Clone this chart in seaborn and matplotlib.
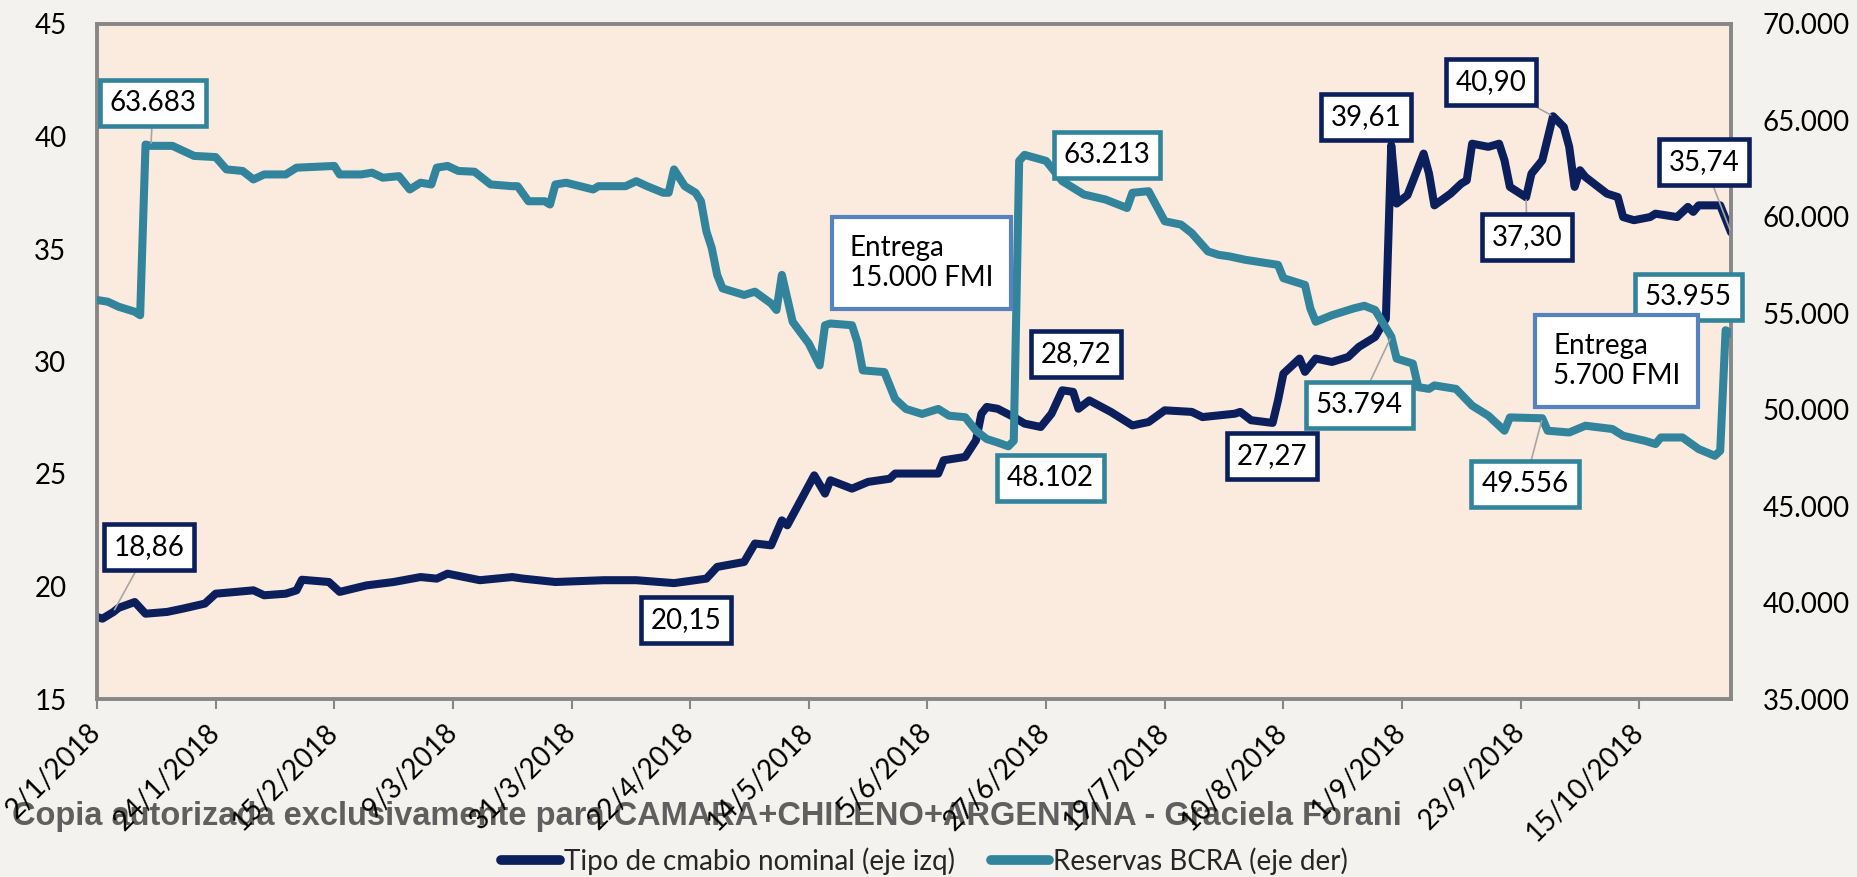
import pandas as pd
import matplotlib
matplotlib.use("Agg")
import matplotlib.pyplot as plt
import matplotlib.dates as mdates
import matplotlib.ticker as mticker
from matplotlib.lines import Line2D
from matplotlib.transforms import ScaledTranslation
import seaborn as sns

# tipo de cambio nominal (eje izq)
tc_dates = ["2018-01-02", "2018-01-03", "2018-01-05", "2018-01-06", "2018-01-09", "2018-01-11",
            "2018-01-15", "2018-01-18", "2018-01-22", "2018-01-24", "2018-01-31", "2018-02-02",
            "2018-02-06", "2018-02-08", "2018-02-09", "2018-02-14", "2018-02-16", "2018-02-21",
            "2018-02-26", "2018-03-03", "2018-03-06", "2018-03-08", "2018-03-14", "2018-03-20",
            "2018-03-22", "2018-03-28", "2018-04-06", "2018-04-12", "2018-04-19", "2018-04-25",
            "2018-04-27", "2018-05-02", "2018-05-04", "2018-05-07", "2018-05-09", "2018-05-10",
            "2018-05-15", "2018-05-17", "2018-05-18", "2018-05-22", "2018-05-25", "2018-05-29",
            "2018-05-30", "2018-06-07", "2018-06-08", "2018-06-12", "2018-06-14", "2018-06-15",
            "2018-06-16", "2018-06-18", "2018-06-21", "2018-06-23", "2018-06-26", "2018-06-28",
            "2018-06-30", "2018-07-02", "2018-07-03", "2018-07-05", "2018-07-09", "2018-07-13",
            "2018-07-16", "2018-07-19", "2018-07-24", "2018-07-26", "2018-08-01", "2018-08-02",
            "2018-08-04", "2018-08-08", "2018-08-09", "2018-08-10", "2018-08-13", "2018-08-14",
            "2018-08-16", "2018-08-19", "2018-08-22", "2018-08-24", "2018-08-27", "2018-08-29",
            "2018-08-30", "2018-08-31", "2018-09-02", "2018-09-05", "2018-09-06", "2018-09-07",
            "2018-09-10", "2018-09-12", "2018-09-13", "2018-09-14", "2018-09-17", "2018-09-19",
            "2018-09-20", "2018-09-21", "2018-09-24", "2018-09-25", "2018-09-27", "2018-09-29",
            "2018-10-01", "2018-10-02", "2018-10-03", "2018-10-04", "2018-10-05", "2018-10-09",
            "2018-10-11", "2018-10-12", "2018-10-14", "2018-10-17", "2018-10-18", "2018-10-22",
            "2018-10-24", "2018-10-25", "2018-10-26", "2018-10-30", "2018-11-01"]
tc_values = [18.65, 18.57, 18.86, 19.05, 19.31, 18.79,
             18.87, 19.02, 19.24, 19.68, 19.83, 19.61,
             19.68, 19.83, 20.30, 20.20, 19.76, 20.05,
             20.20, 20.42, 20.35, 20.57, 20.28, 20.42,
             20.35, 20.20, 20.28, 20.28, 20.15, 20.35,
             20.87, 21.09, 21.91, 21.83, 22.94, 22.72,
             24.94, 24.13, 24.72, 24.35, 24.65, 24.79,
             25.02, 25.02, 25.61, 25.76, 26.50, 27.68,
             27.98, 27.90, 27.53, 27.24, 27.09, 27.68,
             28.72, 28.65, 27.90, 28.27, 27.76, 27.16,
             27.31, 27.83, 27.76, 27.53, 27.68, 27.76,
             27.39, 27.27, 28.27, 29.46, 30.13, 29.54,
             30.13, 29.98, 30.20, 30.65, 31.09, 31.90,
             39.61, 37.02, 37.39, 39.24, 38.35, 36.94,
             37.46, 37.91, 38.05, 39.68, 39.54, 39.68,
             38.94, 37.76, 37.30, 38.35, 38.94, 40.90,
             40.42, 39.54, 37.76, 38.50, 38.20, 37.46,
             37.31, 36.42, 36.28, 36.42, 36.57, 36.42,
             36.87, 36.65, 36.94, 36.94, 35.74]

# reservas BCRA (eje der), millones de USD
res_dates = ["2018-01-02", "2018-01-04", "2018-01-06", "2018-01-09", "2018-01-10", "2018-01-11",
             "2018-01-12", "2018-01-16", "2018-01-20", "2018-01-24", "2018-01-26", "2018-01-29",
             "2018-01-31", "2018-02-02", "2018-02-06", "2018-02-08", "2018-02-15", "2018-02-16",
             "2018-02-20", "2018-02-22", "2018-02-24", "2018-02-27", "2018-03-01", "2018-03-03",
             "2018-03-05", "2018-03-06", "2018-03-08", "2018-03-10", "2018-03-13", "2018-03-16",
             "2018-03-20", "2018-03-21", "2018-03-23", "2018-03-26", "2018-03-27", "2018-03-28",
             "2018-03-30", "2018-04-04", "2018-04-05", "2018-04-10", "2018-04-12", "2018-04-14",
             "2018-04-17", "2018-04-18", "2018-04-19", "2018-04-21", "2018-04-23", "2018-04-24",
             "2018-04-25", "2018-04-26", "2018-04-27", "2018-04-28", "2018-05-02", "2018-05-04",
             "2018-05-07", "2018-05-08", "2018-05-09", "2018-05-10", "2018-05-11", "2018-05-14",
             "2018-05-16", "2018-05-17", "2018-05-18", "2018-05-22", "2018-05-23", "2018-05-24",
             "2018-05-28", "2018-05-29", "2018-05-30", "2018-06-01", "2018-06-04", "2018-06-07",
             "2018-06-09", "2018-06-12", "2018-06-14", "2018-06-16", "2018-06-18", "2018-06-20",
             "2018-06-21", "2018-06-22", "2018-06-23", "2018-06-27", "2018-06-30", "2018-07-04",
             "2018-07-08", "2018-07-12", "2018-07-13", "2018-07-16", "2018-07-17", "2018-07-19",
             "2018-07-22", "2018-07-24", "2018-07-27", "2018-07-29", "2018-07-31", "2018-08-03",
             "2018-08-09", "2018-08-10", "2018-08-14", "2018-08-15", "2018-08-16", "2018-08-19",
             "2018-08-23", "2018-08-25", "2018-08-27", "2018-08-30", "2018-08-31", "2018-09-03",
             "2018-09-04", "2018-09-06", "2018-09-07", "2018-09-11", "2018-09-14", "2018-09-17",
             "2018-09-20", "2018-09-21", "2018-09-27", "2018-09-28", "2018-10-02", "2018-10-05",
             "2018-10-10", "2018-10-12", "2018-10-16", "2018-10-18", "2018-10-19", "2018-10-23",
             "2018-10-26", "2018-10-29", "2018-10-30", "2018-10-31", "2018-11-01"]
res_values = [55690, 55600, 55340, 55080, 54900, 63750,
              63683, 63680, 63160, 63100, 62460, 62380,
              61940, 62200, 62200, 62550, 62640, 62200,
              62200, 62290, 62030, 62110, 61420, 61770,
              61680, 62550, 62640, 62380, 62340, 61680,
              61590, 61590, 60810, 60810, 60640, 61680,
              61770, 61420, 61590, 61590, 61850, 61590,
              61250, 61250, 62460, 61590, 61250, 60810,
              59250, 58380, 56990, 56290, 55950, 56120,
              55510, 55170, 56990, 55770, 54560, 53430,
              52300, 54380, 54470, 54380, 53510, 52040,
              51950, 51260, 50560, 50040, 49780, 50040,
              49690, 49610, 48910, 48480, 48300, 48102,
              48390, 62900, 63213, 62900, 61850, 61160,
              60900, 60460, 61250, 61330, 60810, 59770,
              59600, 59160, 58210, 58030, 57950, 57770,
              57510, 56820, 56470, 55250, 54560, 54900,
              55250, 55390, 55170, 53794, 52650, 52390,
              51170, 51080, 51260, 51080, 50210, 49690,
              48910, 49600, 49556, 48910, 48820, 49170,
              49000, 48650, 48390, 48220, 48560, 48560,
              47960, 47610, 47870, 54120, 53955]

tick_labels = ["2/1/2018", "24/1/2018", "15/2/2018", "9/3/2018", "31/3/2018", "22/4/2018",
               "14/5/2018", "5/6/2018", "27/6/2018", "19/7/2018", "10/8/2018", "1/9/2018",
               "23/9/2018", "15/10/2018"]
left_ticks = [15, 20, 25, 30, 35, 40, 45]
right_ticks = [35000, 40000, 45000, 50000, 55000, 60000, 65000, 70000]

tc_label_dates = ["2018-01-05", "2018-04-19", "2018-06-30", "2018-08-08", "2018-08-30",
                  "2018-09-29", "2018-09-24", "2018-11-01"]
res_label_dates = ["2018-01-12", "2018-06-20", "2018-06-23", "2018-08-30", "2018-09-27",
                   "2018-11-01"]
entrega_texts = ["Entrega\n15.000 FMI", "Entrega\n5.700 FMI"]
legend_labels = ["Tipo de cmabio nominal (eje izq)", "Reservas BCRA (eje der)"]
watermark = "Copia autorizada exclusivamente para CAMARA+CHILENO+ARGENTINA - Graciela Forani"

# layout (figure pixels from top-left) for the boxes, and whether a leader line is drawn
tc_label_pos = [(149, 547, True), (686, 620, False), (1076, 354, False), (1272, 456, False),
                (1366, 117, False), (1491, 82, True), (1527, 237, True), (1704, 162, True)]
res_label_pos = [(153, 103, True), (1050, 478, False), (1107, 155, False), (1359, 405, True),
                 (1525, 484, True), (1688, 297, False)]
entrega_pos = [(850, 263), (1553, 361)]

NAVY = "#0B1F5C"
TEAL = "#31849B"
BOXBLUE = "#5682BE"
FIG_BG = "#F3F2EE"
PLOT_BG = "#FAEBDE"
FRAME = "#878787"

tc = pd.DataFrame({"fecha": pd.to_datetime(tc_dates), "valor": tc_values})
res = pd.DataFrame({"fecha": pd.to_datetime(res_dates), "valor": res_values})

sns.set_theme(style="white")
plt.rcParams["font.family"] = ["Lato", "DejaVu Sans"]

W, H = 1857, 877
fig = plt.figure(figsize=(W / 100, H / 100), dpi=100, facecolor=FIG_BG)
ax = fig.add_axes([97 / W, 1 - 699 / H, (1731 - 97) / W, (699 - 24) / H])
ax.set_facecolor(PLOT_BG)
ax2 = ax.twinx()

sns.lineplot(data=tc, x="fecha", y="valor", ax=ax, color=NAVY, linewidth=5.8,
             solid_joinstyle="round", solid_capstyle="round", legend=False)
sns.lineplot(data=res, x="fecha", y="valor", ax=ax2, color=TEAL, linewidth=5.8,
             solid_joinstyle="round", solid_capstyle="round", legend=False)

ax.set_xlim(tc["fecha"].min(), tc["fecha"].max())
ax.set_ylim(15, 45)
ax2.set_ylim(35000, 70000)
ax.set_xlabel("")
ax.set_ylabel("")
ax2.set_ylabel("")

ax.set_yticks(left_ticks)
ax.set_yticklabels([str(t) for t in left_ticks], fontsize=20)
ax2.set_yticks(right_ticks)
ax2.yaxis.set_major_formatter(mticker.FuncFormatter(lambda v, p: f"{v:,.0f}".replace(",", ".")))
for lab in ax2.get_yticklabels():
    lab.set_fontsize(20)

ax.set_xticks(pd.to_datetime(tick_labels, dayfirst=True))
ax.set_xticklabels(tick_labels, rotation=45, ha="right", va="center",
                   rotation_mode="anchor", fontsize=20)
shift = ScaledTranslation(0.03, 0, fig.dpi_scale_trans)
for lab in ax.get_xticklabels():
    lab.set_transform(lab.get_transform() + shift)

ax.tick_params(axis="y", left=False, length=0, pad=22, labelcolor="black", labelsize=20)
ax.tick_params(axis="x", bottom=True, direction="out", length=7, width=1.5,
               color=FRAME, pad=14, labelcolor="black")
ax2.tick_params(axis="y", right=False, length=0, pad=23, labelcolor="black", labelsize=20)
ax.grid(False)
ax2.grid(False)

for s in ax.spines.values():
    s.set_visible(True)
    s.set_color(FRAME)
    s.set_linewidth(2.8)
for s in ax2.spines.values():
    s.set_visible(False)


def fmt_tc(v):
    return f"{v:.2f}".replace(".", ",")


def fmt_res(v):
    return f"{v:,.0f}".replace(",", ".")


def add_label(axis_src, series, dates, positions, color, fmt):
    for d, (px, py, leader) in zip(dates, positions):
        ts = pd.Timestamp(d)
        v = series.loc[series["fecha"] == ts, "valor"].iloc[0]
        arrow = dict(arrowstyle="-", color="#A6A6A6", lw=1.2, shrinkA=0, shrinkB=2) if leader else None
        ax2.annotate(fmt(v), xy=(mdates.date2num(ts), v), xycoords=axis_src.transData,
                     xytext=(px, H - py), textcoords="figure pixels",
                     ha="center", va="center", fontsize=20, color="black",
                     bbox=dict(boxstyle="square,pad=0.36", fc="white", ec=color, lw=3.3),
                     arrowprops=arrow, zorder=6, annotation_clip=False)


add_label(ax, tc, tc_label_dates, tc_label_pos, NAVY, fmt_tc)
add_label(ax2, res, res_label_dates, res_label_pos, TEAL, fmt_res)

for txt, (px, py) in zip(entrega_texts, entrega_pos):
    fig.text(px / W, 1 - py / H, txt, ha="left", va="center", fontsize=20, color="black",
             linespacing=1.15, zorder=8,
             bbox=dict(boxstyle="square,pad=0.65", fc="white", ec=BOXBLUE, lw=3))

fig.text(12 / W, 1 - 816 / H, watermark, ha="left", va="center", fontsize=23.5,
         fontweight="bold", color="#5F5F5F", family=["Liberation Sans", "DejaVu Sans"],
         zorder=-1)

handles = [Line2D([], [], color=NAVY, lw=7, solid_capstyle="round"),
           Line2D([], [], color=TEAL, lw=7, solid_capstyle="round")]
fig.legend(handles, legend_labels, loc="center", bbox_to_anchor=(0.498, 1 - 861 / H),
           ncol=2, frameon=False, fontsize=20, handlelength=2.1, handletextpad=0.15,
           columnspacing=1.3)

fig.savefig("out.png", dpi=100, facecolor=FIG_BG)
